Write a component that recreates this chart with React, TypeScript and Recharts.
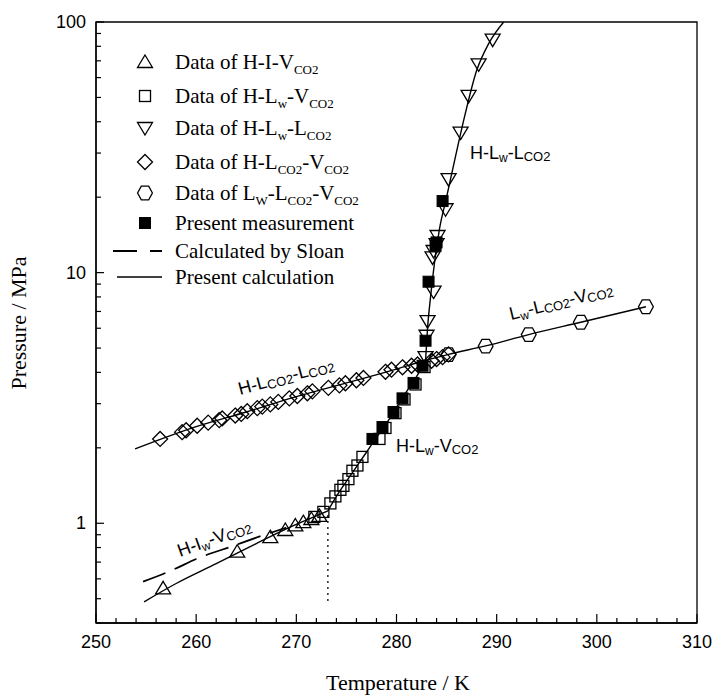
import React from 'react';
import { ComposedChart, Line, Scatter, XAxis, YAxis, ReferenceArea, ReferenceLine } from 'recharts';

// axis ticks
const xTicks = [250, 252, 254, 256, 258, 260, 262, 264, 266, 268, 270, 272, 274, 276, 278, 280, 282, 284, 286, 288, 290, 292, 294, 296, 298, 300, 302, 304, 306, 308, 310];
const xLabels = [250, 260, 270, 280, 290, 300, 310];
const yTicks = [0.4, 0.5, 0.6, 0.7, 0.8, 0.9, 1, 2, 3, 4, 5, 6, 7, 8, 9, 10, 20, 30, 40, 50, 60, 70, 80, 90, 100];
const yLabels = [1, 10, 100];

// measured data (T / K, P / MPa)
const hIV = [
  { T: 256.7, P: 0.55 }, { T: 264.1, P: 0.77 }, { T: 267.4, P: 0.88 }, { T: 268.9, P: 0.94 },
  { T: 269.9, P: 0.98 }, { T: 270.7, P: 1.01 }, { T: 271.5, P: 1.04 }, { T: 272.3, P: 1.07 },
];
const hLwV = [
  { T: 271.8, P: 1.06 }, { T: 272.7, P: 1.11 }, { T: 273.4, P: 1.2 }, { T: 273.9, P: 1.28 },
  { T: 274.4, P: 1.36 }, { T: 274.7, P: 1.41 }, { T: 275.2, P: 1.5 }, { T: 275.6, P: 1.62 },
  { T: 276.1, P: 1.7 }, { T: 276.6, P: 1.84 }, { T: 278.3, P: 2.17 }, { T: 278.9, P: 2.4 },
  { T: 279.9, P: 2.75 }, { T: 280.8, P: 3.12 }, { T: 281.9, P: 3.58 }, { T: 282.8, P: 4.2 },
];
const hLwL = [
  { T: 282.9, P: 4.6 }, { T: 283.0, P: 5.6 }, { T: 283.1, P: 6.4 }, { T: 283.7, P: 8.4 },
  { T: 283.6, P: 11.5 }, { T: 283.7, P: 12.2 }, { T: 284.0, P: 13.0 }, { T: 284.1, P: 14.0 },
  { T: 284.9, P: 17.9 }, { T: 285.2, P: 23.6 }, { T: 286.4, P: 36.2 }, { T: 287.2, P: 50.7 },
  { T: 288.2, P: 67.8 }, { T: 289.6, P: 85 },
];
const hLcV = [
  { T: 256.4, P: 2.17 }, { T: 258.6, P: 2.31 }, { T: 259.0, P: 2.35 }, { T: 260.1, P: 2.45 },
  { T: 261.2, P: 2.52 }, { T: 262.3, P: 2.58 }, { T: 262.6, P: 2.62 }, { T: 263.9, P: 2.69 },
  { T: 264.5, P: 2.73 }, { T: 265.1, P: 2.8 }, { T: 266.1, P: 2.88 }, { T: 266.6, P: 2.92 },
  { T: 267.4, P: 2.98 }, { T: 268.2, P: 3.05 }, { T: 269.3, P: 3.15 }, { T: 270.1, P: 3.22 },
  { T: 271.1, P: 3.3 }, { T: 271.6, P: 3.36 }, { T: 273.2, P: 3.47 }, { T: 274.3, P: 3.55 },
  { T: 274.9, P: 3.62 }, { T: 276.0, P: 3.72 }, { T: 276.7, P: 3.8 }, { T: 278.9, P: 4.02 },
  { T: 279.5, P: 4.1 }, { T: 280.6, P: 4.19 }, { T: 281.5, P: 4.25 }, { T: 282.1, P: 4.3 },
  { T: 283.5, P: 4.45 }, { T: 284.0, P: 4.52 }, { T: 284.6, P: 4.6 }, { T: 285.2, P: 4.72 },
];
const lwLcV = [
  { T: 285.2, P: 4.71 }, { T: 288.9, P: 5.09 }, { T: 293.2, P: 5.66 }, { T: 298.4, P: 6.34 }, { T: 304.9, P: 7.31 },
];
const present = [
  { T: 277.6, P: 2.17 }, { T: 278.6, P: 2.42 }, { T: 279.7, P: 2.78 }, { T: 280.6, P: 3.15 },
  { T: 281.7, P: 3.63 }, { T: 282.6, P: 4.25 }, { T: 282.9, P: 5.35 }, { T: 283.2, P: 9.2 },
  { T: 283.9, P: 12.8 }, { T: 284.0, P: 13.2 }, { T: 284.6, P: 19.3 },
];

// calculated curves
const calcHIV = [
  { T: 254.8, P: 0.486 }, { T: 258, P: 0.575 }, { T: 262, P: 0.69 }, { T: 266, P: 0.83 },
  { T: 269, P: 0.95 }, { T: 271, P: 1.03 }, { T: 273.15, P: 1.12 },
];
const calcHLwV = [
  { T: 273.15, P: 1.12 }, { T: 274, P: 1.28 }, { T: 275, P: 1.47 }, { T: 276, P: 1.68 },
  { T: 277, P: 1.92 }, { T: 278, P: 2.2 }, { T: 279, P: 2.5 }, { T: 280, P: 2.9 },
  { T: 281, P: 3.35 }, { T: 282, P: 3.85 }, { T: 282.9, P: 4.45 },
];
const calcHLwL = [
  { T: 282.9, P: 4.45 }, { T: 283.1, P: 6 }, { T: 283.4, P: 8 }, { T: 283.8, P: 11 },
  { T: 284.3, P: 15 }, { T: 285, P: 20 }, { T: 285.8, P: 28 }, { T: 286.8, P: 42 },
  { T: 288, P: 64 }, { T: 289.2, P: 82 }, { T: 290.7, P: 100 },
];
const calcVap = [
  { T: 253.9, P: 1.98 }, { T: 260, P: 2.43 }, { T: 265, P: 2.78 }, { T: 270, P: 3.2 },
  { T: 275, P: 3.63 }, { T: 280, P: 4.12 }, { T: 283, P: 4.48 }, { T: 285.2, P: 4.72 },
  { T: 288.9, P: 5.1 }, { T: 293.2, P: 5.66 }, { T: 298.4, P: 6.34 }, { T: 304.9, P: 7.31 },
];
const sloanHIV = [
  { T: 254.7, P: 0.585 }, { T: 257.6, P: 0.65 }, { T: 260, P: 0.72 }, { T: 264, P: 0.82 },
  { T: 266.5, P: 0.89 }, { T: 269, P: 0.96 },
];
const icePoint = 273.15;

const SERIF = '"Liberation Serif", "Times New Roman", serif';
const SANS = '"Liberation Sans", Arial, sans-serif';
const sw = 1.3;

const triUp = (cx: number, cy: number) => (
  <path d={`M${cx},${cy - 7} L${cx + 7.5},${cy + 5.5} L${cx - 7.5},${cy + 5.5} Z`} fill="none" stroke="#000" strokeWidth={sw} />
);
const triDown = (cx: number, cy: number) => (
  <path d={`M${cx},${cy + 7} L${cx + 7.5},${cy - 5.5} L${cx - 7.5},${cy - 5.5} Z`} fill="none" stroke="#000" strokeWidth={sw} />
);
const square = (cx: number, cy: number) => (
  <rect x={cx - 5.5} y={cy - 5.5} width={11} height={11} fill="none" stroke="#000" strokeWidth={sw} />
);
const filled = (cx: number, cy: number) => (
  <rect x={cx - 5.5} y={cy - 5.5} width={11} height={11} fill="#000" stroke="#000" strokeWidth={1} />
);
const diamond = (cx: number, cy: number) => (
  <path d={`M${cx},${cy - 7.5} L${cx + 7.5},${cy} L${cx},${cy + 7.5} L${cx - 7.5},${cy} Z`} fill="none" stroke="#000" strokeWidth={sw} />
);
const hexagon = (cx: number, cy: number) => (
  <path d={`M${cx - 3.7},${cy - 6.8} L${cx + 3.7},${cy - 6.8} L${cx + 7.4},${cy} L${cx + 3.7},${cy + 6.8} L${cx - 3.7},${cy + 6.8} L${cx - 7.4},${cy} Z`} fill="none" stroke="#000" strokeWidth={sw} />
);

const shapeOf = (fn: (cx: number, cy: number) => React.ReactElement) => (p: any) => fn(p.cx, p.cy);

const XTick = (props: any) => {
  const { x, y, payload } = props;
  const major = xLabels.includes(payload.value);
  return (
    <g>
      <line x1={x} x2={x} y1={y} y2={y - (major ? 9 : 5)} stroke="#000" strokeWidth={1.2} />
      {major && (
        <text x={x} y={y + 25} textAnchor="middle" fontFamily={SANS} fontSize={18} fill="#000">{payload.value}</text>
      )}
    </g>
  );
};

const YTick = (props: any) => {
  const { x, y, payload } = props;
  const major = yLabels.includes(payload.value);
  return (
    <g>
      <line x1={x} x2={x + (major ? 8 : 5)} y1={y} y2={y} stroke="#000" strokeWidth={1.2} />
      {major && (
        <text x={x - 10} y={y + 6} textAnchor="end" fontFamily={SANS} fontSize={18} fill="#000">{payload.value}</text>
      )}
    </g>
  );
};

const legendRows: { y: number; mark: (cx: number, cy: number) => React.ReactElement; text: React.ReactNode }[] = [
  { y: 62, mark: triUp, text: <>Data of H-I-V<tspan fontSize={13} dy={5}>CO2</tspan></> },
  { y: 96, mark: square, text: <>Data of H-L<tspan fontSize={13} dy={5}>w</tspan><tspan dy={-5}>-V</tspan><tspan fontSize={13} dy={5}>CO2</tspan></> },
  { y: 128, mark: triDown, text: <>Data of H-L<tspan fontSize={13} dy={5}>w</tspan><tspan dy={-5}>-L</tspan><tspan fontSize={13} dy={5}>CO2</tspan></> },
  { y: 162, mark: diamond, text: <>Data of H-L<tspan fontSize={13} dy={5}>CO2</tspan><tspan dy={-5}>-V</tspan><tspan fontSize={13} dy={5}>CO2</tspan></> },
  { y: 193, mark: hexagon, text: <>Data of L<tspan fontSize={13} dy={5}>W</tspan><tspan dy={-5}>-L</tspan><tspan fontSize={13} dy={5}>CO2</tspan><tspan dy={-5}>-V</tspan><tspan fontSize={13} dy={5}>CO2</tspan></> },
  { y: 223, mark: filled, text: <>Present measurement</> },
];

function Overlay() {
  return (
    <svg width={717} height={698} style={{ position: 'absolute', left: 0, top: 0, pointerEvents: 'none' }}>
      {/* legend */}
      {legendRows.map((r, i) => (
        <g key={i}>
          {r.mark(145, r.y)}
          <text x={175} y={r.y + 7} fontFamily={SERIF} fontSize={21} fill="#000">{r.text}</text>
        </g>
      ))}
      <line x1={113} x2={162} y1={251} y2={251} stroke="#000" strokeWidth={1.8} strokeDasharray="24 13" />
      <text x={175} y={258} fontFamily={SERIF} fontSize={21} fill="#000">Calculated by Sloan</text>
      <line x1={117} x2={162} y1={277} y2={277} stroke="#000" strokeWidth={1.3} />
      <text x={175} y={284} fontFamily={SERIF} fontSize={21} fill="#000">Present calculation</text>

      {/* curve labels */}
      <g fontFamily={SANS} fontSize={18} fill="#000">
        <text x={470} y={159}>H-L<tspan fontSize={12} dy={3}>w</tspan><tspan dy={-3}>-L</tspan><tspan fontSize={13} dy={2}>CO2</tspan></text>
        <text x={511} y={320} transform="rotate(-14 511 320)">L<tspan fontSize={12} dy={3}>w</tspan><tspan dy={-3}>-L</tspan><tspan fontSize={13} dy={2}>CO2</tspan><tspan dy={-2}>-V</tspan><tspan fontSize={13} dy={2}>CO2</tspan></text>
        <text x={240} y={395} transform="rotate(-15 240 395)">H-L<tspan fontSize={13} dy={2}>CO2</tspan><tspan dy={-2}>-L</tspan><tspan fontSize={13} dy={2}>CO2</tspan></text>
        <text x={396} y={452}>H-L<tspan fontSize={12} dy={3}>w</tspan><tspan dy={-3}>-V</tspan><tspan fontSize={13} dy={2}>CO2</tspan></text>
        <text x={180} y={557} transform="rotate(-20 180 557)">H-I<tspan fontSize={12} dy={3}>w</tspan><tspan dy={-3}>-V</tspan><tspan fontSize={13} dy={2}>CO2</tspan></text>
      </g>

      {/* axis titles */}
      <text x={398} y={690} textAnchor="middle" fontFamily={SERIF} fontSize={22} fill="#000">Temperature / K</text>
      <text x={26} y={323} textAnchor="middle" fontFamily={SERIF} fontSize={22} fill="#000" transform="rotate(-90 26 323)">Pressure / MPa</text>
    </svg>
  );
}

export default function App() {
  return (
    <div style={{ position: 'absolute', left: 0, top: 0, width: 717, height: 698, background: '#fff' }}>
      <ComposedChart width={717} height={698} margin={{ top: 22, right: 20, bottom: 45, left: 36 }}>
        <XAxis
          type="number" dataKey="T" domain={[250, 310]} ticks={xTicks} interval={0}
          allowDataOverflow tickSize={0} tickMargin={0} tickLine={false}
          axisLine={{ stroke: '#000', strokeWidth: 1.3 }} tick={<XTick />} height={30}
        />
        <YAxis
          type="number" dataKey="P" scale="log" domain={[0.4, 100]} ticks={yTicks} interval={0}
          allowDataOverflow tickSize={0} tickMargin={0} tickLine={false}
          axisLine={{ stroke: '#000', strokeWidth: 1.3 }} tick={<YTick />} width={60}
        />
        <ReferenceArea x1={250} x2={310} y1={0.4} y2={100} fill="none" stroke="#000" strokeWidth={1.3} ifOverflow="visible" />
        <ReferenceLine
          segment={[{ x: icePoint, y: 0.49 }, { x: icePoint, y: 1.12 }]}
          stroke="#000" strokeWidth={1.3} strokeDasharray="2 4"
        />
        <Line data={sloanHIV} dataKey="P" type="monotone" stroke="#000" strokeWidth={1.8} strokeDasharray="24 10" dot={false} isAnimationActive={false} />
        <Line data={calcHIV} dataKey="P" type="monotone" stroke="#000" strokeWidth={1.4} dot={false} isAnimationActive={false} />
        <Line data={calcHLwV} dataKey="P" type="monotone" stroke="#000" strokeWidth={1.4} dot={false} isAnimationActive={false} />
        <Line data={calcHLwL} dataKey="P" type="monotone" stroke="#000" strokeWidth={1.4} dot={false} isAnimationActive={false} />
        <Line data={calcVap} dataKey="P" type="monotone" stroke="#000" strokeWidth={1.4} dot={false} isAnimationActive={false} />
        <Scatter data={hIV} dataKey="P" shape={shapeOf(triUp)} isAnimationActive={false} />
        <Scatter data={hLwV} dataKey="P" shape={shapeOf(square)} isAnimationActive={false} />
        <Scatter data={hLwL} dataKey="P" shape={shapeOf(triDown)} isAnimationActive={false} />
        <Scatter data={hLcV} dataKey="P" shape={shapeOf(diamond)} isAnimationActive={false} />
        <Scatter data={lwLcV} dataKey="P" shape={shapeOf(hexagon)} isAnimationActive={false} />
        <Scatter data={present} dataKey="P" shape={shapeOf(filled)} isAnimationActive={false} />
      </ComposedChart>
      <Overlay />
    </div>
  );
}
